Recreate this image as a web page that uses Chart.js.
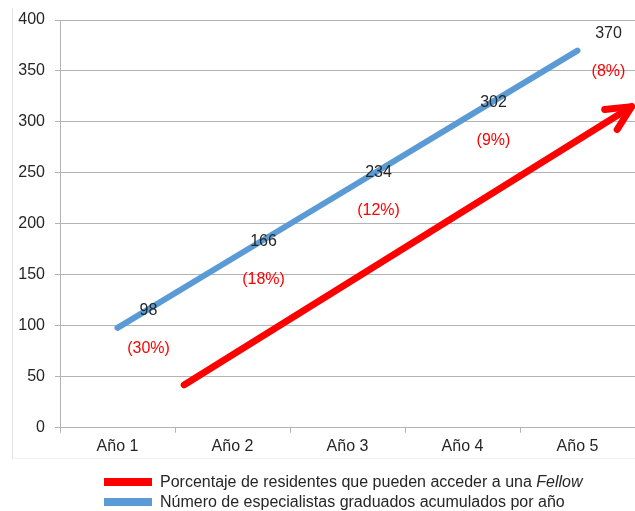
<!DOCTYPE html>
<html>
<head>
<meta charset="utf-8">
<script src="https://cdn.jsdelivr.net/npm/chart.js@4/dist/chart.umd.min.js"></script>
<style>
  html, body { margin: 0; padding: 0; background: #fff; }
  #wrap { position: relative; width: 635px; height: 511px; overflow: hidden; }
  #frame { position: absolute; left: 12px; top: 8px; width: 640px; height: 450px;
           border-left: 1px solid #e4e4e4; border-bottom: 1px solid #f2f2f2; }
  canvas { position: absolute; left: 0; top: 0; }
  .leg { position: absolute; left: 104px; font: 16px "Liberation Sans", Arial, sans-serif; color: #262626;
         white-space: nowrap; }
  .leg span.sw { position: absolute; left: 0; top: 6px; width: 48px; height: 8px; }
  .leg span.tx { position: absolute; left: 56px; top: 0; line-height: 20px; }
</style>
</head>
<body>
<div id="wrap">
  <div id="frame"></div>
  <canvas id="c" width="635" height="511"></canvas>
  <div class="leg" style="top:472px"><span class="sw" style="background:#ff0000"></span><span class="tx">Porcentaje de residentes que pueden acceder a una <i>Fellow</i></span></div>
  <div class="leg" style="top:492px"><span class="sw" style="background:#5b9bd5"></span><span class="tx">Número de especialistas graduados acumulados por año</span></div>
</div>
<script>
/* Specialists graduated per year, with share that can access a Fellow */
var YEARS = ["Año 1", "Año 2", "Año 3", "Año 4", "Año 5"];
var GRADUATES = [98, 166, 234, 302, 370];
var PCT_LABELS = ["(30%)", "(18%)", "(12%)", "(9%)", "(8%)"];
// trend arrow, x in category-index units
var ARROW_X = [0.58, 4.47];
var ARROW_Y = [42, 315];
var Y_TICKS = { min: 0, max: 400, step: 50 };

var BLUE = "#5b9bd5", RED = "#ff0000", INK = "#262626", GRID = "#b3b3b3";
var FONT = "Liberation Sans, Arial, sans-serif";

var labelPlugin = {
  id: "pointLabels",
  afterDatasetsDraw: function (chart) {
    var meta = chart.getDatasetMeta(0), ctx = chart.ctx;
    ctx.save();
    ctx.font = "16px " + FONT;
    ctx.textAlign = "center";
    ctx.textBaseline = "middle";
    meta.data.forEach(function (pt, i) {
      ctx.fillStyle = INK;
      ctx.fillText(String(GRADUATES[i]), pt.x + 31, pt.y - 17);
      ctx.fillStyle = RED;
      ctx.fillText(PCT_LABELS[i], pt.x + 31, pt.y + 21);
    });
    ctx.restore();
  }
};

var arrowPlugin = {
  id: "arrowHead",
  afterDatasetsDraw: function (chart) {
    var pts = chart.getDatasetMeta(1).data;
    var a = pts[pts.length - 2], b = pts[pts.length - 1];
    var ang = Math.atan2(a.y - b.y, a.x - b.x), len = 27, spread = 26 * Math.PI / 180;
    var ctx = chart.ctx;
    ctx.save();
    ctx.strokeStyle = RED;
    ctx.lineWidth = 7;
    ctx.lineCap = "round";
    ctx.lineJoin = "round";
    ctx.beginPath();
    ctx.moveTo(b.x + len * Math.cos(ang + spread), b.y + len * Math.sin(ang + spread));
    ctx.lineTo(b.x, b.y);
    ctx.lineTo(b.x + len * Math.cos(ang - spread), b.y + len * Math.sin(ang - spread));
    ctx.stroke();
    ctx.restore();
  }
};

new Chart(document.getElementById("c"), {
  type: "line",
  data: {
    labels: YEARS,
    datasets: [
      { data: GRADUATES, borderColor: BLUE, backgroundColor: BLUE, borderWidth: 6,
        borderCapStyle: "round", pointRadius: 0, tension: 0, clip: false },
      { data: ARROW_X.map(function (x, i) { return { x: x, y: ARROW_Y[i] }; }),
        xAxisID: "x2", borderColor: RED, backgroundColor: RED, borderWidth: 7,
        borderCapStyle: "round", pointRadius: 0, tension: 0, clip: false }
    ]
  },
  options: {
    responsive: false, animation: false,
    layout: { padding: { top: 20, right: 0, left: 0, bottom: 0 } },
    plugins: { legend: { display: false }, tooltip: { enabled: false } },
    scales: {
      x: {
        offset: true,
        grid: { display: true, drawOnChartArea: false, drawTicks: true, tickLength: 5, offset: true, color: GRID },
        border: { color: GRID },
        ticks: { color: INK, font: { family: FONT, size: 16 }, padding: 4 },
        afterFit: function (s) { s.height = 83.3; }
      },
      x2: { type: "linear", display: false, min: -0.5, max: 4.5 },
      y: {
        min: Y_TICKS.min, max: Y_TICKS.max,
        grid: { color: GRID, tickLength: 5 },
        border: { color: GRID },
        ticks: { stepSize: Y_TICKS.step, color: INK, font: { family: FONT, size: 16 }, padding: 10 },
        afterFit: function (s) { s.width = 60; }
      }
    }
  },
  plugins: [labelPlugin, arrowPlugin]
});
</script>
</body>
</html>
